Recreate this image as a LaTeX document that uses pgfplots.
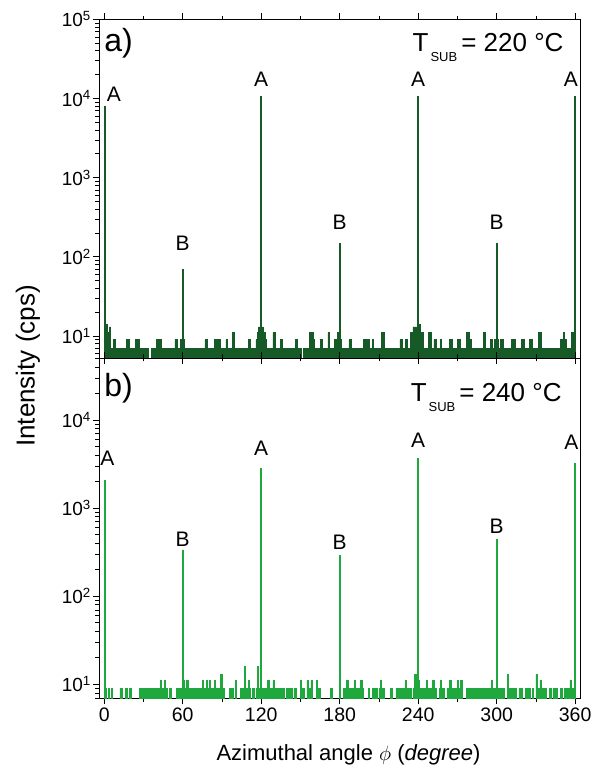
\documentclass[border=0pt]{standalone}
\usepackage{pgfplots}
\pgfplotsset{compat=1.18}
\usepackage{fontspec}
\setmainfont{Liberation Sans}
\definecolor{topgreen}{RGB}{22,90,40}
\definecolor{botgreen}{RGB}{30,168,62}
\newcommand{\Tsub}[1]{T\hspace{2pt}\raisebox{-10pt}{\fontsize{13}{13}\selectfont SUB}\hspace{4pt}= #1 °C}
\pgfplotsset{
  panel/.style={
    scale only axis, width=481pt,
    xmin=-4, xmax=363.7,
    xtick={0,60,...,360}, minor xtick={30,90,...,330},
    xtick pos=both, ytick pos=left, tick align=outside,
    major tick length=6pt, minor tick length=3.5pt,
    every tick/.style={black, line width=0.6pt},
    axis line style={line width=0.8pt},
    yticklabel style={font=\fontsize{19}{19}\selectfont, inner xsep=2pt},
    xticklabel style={font=\fontsize{19.5}{19.5}\selectfont},
    xticklabel={\pgfmathprintnumber[assume math mode=true]{\tick}},
    minor ytick={6,7,8,9,20,30,40,50,60,70,80,90,200,300,400,500,600,700,800,900,2000,3000,4000,5000,6000,7000,8000,9000,20000,30000,40000,50000,60000,70000,80000,90000},
  }
}
\begin{document}
\begin{tikzpicture}[x=1pt,y=1pt]
\path[use as bounding box] (-99pt,-68.7pt) rectangle (504pt,698.3pt);
% ---------------- top panel ----------------
\begin{axis}[ymode=log, panel, at={(0pt,340.3pt)}, anchor=south west, height=338.7pt,
  ymin=5.27, ymax=100000,
  ytick={10,100,1000,10000,100000},
  yticklabels={10\textsuperscript{1},10\textsuperscript{2},10\textsuperscript{3},10\textsuperscript{4},10\textsuperscript{5}},
  xticklabels={}]
\addplot[const plot, draw=topgreen, fill=topgreen, line width=0.7pt] coordinates {
(0,8000) (0.8,14) (2.5,11) (4,13) (5,7) (7,9) (8.5,7) (10.3,0.5) (10.8,7) (17,9) (19,7) (20,0.5) (20.5,7)
(24,9) (27,7) (34,0.5) (36,7) (40,9) (44,7) (48,0.5) (48.5,7) (54,9) (56,7) (58,9) (59.6,70) (60.4,9) (61,7)
(71,0.5) (71.5,7) (77,9) (79,7) (84,9) (89,7)
(93,9) (94,7) (98,11) (99.5,7) (110,9) (112,7) (116,9) (117,11) (118,13) (119.6,10700) (120.4,13) (121.5,11)
(123,9) (124,7) (129,11) (131,7) (135,9) (136,7) (138,0.5) (138.5,7) (146,9) (148,7) (151,0.5) (152,7)
(157,11) (160,9) (161,7) (165,9) (167,7) (171,11) (172,7) (176,9) (178,11) (179.6,149) (180.4,9) (181,7)
(187,9) (189,7) (198,9) (203,0.5) (203.5,7) (205,9) (206,7) (212,11) (214,7) (226,9) (228,7) (230,9) (232,7)
(234,11) (236,13) (239.6,10700) (240.4,14) (242,11) (244,7) (248,11) (250,7) (252,9) (254,0.5) (254.5,7)
(257,9) (258,7) (264,9) (266,7) (269,0.5) (270,9) (272,7)
(277,11) (279,9) (281,7) (287,0.5) (287.5,7) (290,11) (291.5,7) (295,9) (297,7) (298,9) (299.6,149) (300.4,9)
(301,7) (303,9) (305,7) (311,9) (314,7) (319,9) (321,7) (322,0.5) (322.5,7) (325,9) (327,7) (332,11) (334,7)
(344,0.5) (345,7) (349,9) (351,11) (352,9) (353,7) (357,11) (359.6,10700) (360,10700)
} \closedcycle;
\node[anchor=base west, font=\fontsize{32}{32}\selectfont] at (rel axis cs:0.004,0.904) {a)};
\node[anchor=base east, font=\fontsize{26}{26}\selectfont] at (rel axis cs:0.973,0.904) {\Tsub{220}};
\begin{scope}[every node/.style={font=\fontsize{21}{21}\selectfont}]
\node at (axis cs:7.4,11400) {A};
\node at (axis cs:120,17300) {A};
\node at (axis cs:240,17500) {A};
\node at (axis cs:356.7,17500) {A};
\node at (axis cs:60,150) {B};
\node at (axis cs:180,270) {B};
\node at (axis cs:300,270) {B};
\end{scope}
\end{axis}
% ---------------- bottom panel ----------------
\begin{axis}[ymode=log, panel, at={(0pt,0pt)}, anchor=south west, height=340.3pt,
  ymin=6.93, ymax=50700,
  ytick={10,100,1000,10000},
  yticklabels={10\textsuperscript{1},10\textsuperscript{2},10\textsuperscript{3},10\textsuperscript{4}}]
\addplot[const plot, draw=botgreen, fill=botgreen, line width=0.7pt] coordinates {
(0,2060) (0.8,9) (1.5,0.5) (3,9) (4,0.5) (5.5,9) (6.5,0.5) (12,9) (13.5,0.5) (16.5,9) (17.5,0.5) (19.5,9)
(21,0.5) (27,9) (35,0.5) (35.5,9) (43,11) (44,9) (46,11) (47,9) (48,0.5) (50,9) (51,0.5) (55,9)
(59.6,336) (60.4,11) (61.5,9) (62.5,11) (64.5,9) (67,0.5) (67.5,9) (72,0.5) (73,9) (75,11) (76,9) (78,11)
(79,9) (80.5,11) (81.5,9) (84,11) (85,9) (89,13) (90,9) (92,0.5)
(96,9) (99,0.5) (100,11) (101,0.5) (104,9) (106,0.5) (107,16) (108,9) (110,11) (111,9) (112,0.5) (113,9)
(115,0.5) (116,9) (117,16) (118,9) (119.6,2850) (120.4,9) (121,0.5) (122,9) (125,11) (126,9) (129,11) (130,9)
(133,0.5) (134,9) (138,0.5) (139,9) (144,0.5) (145,9) (147,0.5) (150,11) (151,9) (153,0.5) (155,11) (156,9)
(158,11) (159,0.5) (162,11) (163,9) (165,0.5) (173,9) (174,0.5) (179.6,289) (180.4,0.5)
(183,9) (185,11) (186.5,9) (188,0.5) (189,9) (191,11) (192,9) (196,11) (197,9) (198,0.5) (202,9) (203,0.5)
(205,9) (207,0.5) (208,9) (209,0.5) (210,9) (211,11) (212,9) (214,0.5) (219,9) (220,0.5) (223,9) (226,0.5)
(227,9) (230,11) (231,9) (235,0.5) (236,9) (237,13) (239.6,3700) (240.4,11) (241,9) (243,0.5) (244,9)
(246,11) (247,9) (249,0.5) (250,9) (251,11) (252,9) (254,0.5) (256,9) (257,11) (258,9) (260,0.5) (262,9)
(264,11) (265,9) (267,0.5) (268,9) (270,11) (271,9) (272,11) (274,0.5)
(277,9) (279,0.5) (280,9) (282,0.5) (283,9) (288,0.5) (289,9) (293,0.5) (294,9) (296,11) (297,9)
(299.6,445) (300.4,9) (301,0.5) (302,9) (306,0.5) (308,13) (309,0.5) (310,9) (315,0.5) (317,9) (320,0.5)
(322,9) (326,0.5) (327,9) (328,0.5) (330,13) (331,9) (333,11) (334,9) (338,0.5) (340,9) (342,0.5) (343,9)
(346,0.5) (349,9) (350,0.5) (352,9) (354,0.5) (355,9) (356,11) (357,0.5) (358,9) (359.6,3240) (360,3240)
} \closedcycle;
\node[anchor=base west, font=\fontsize{32}{32}\selectfont] at (rel axis cs:0.004,0.886) {b)};
\node[anchor=base east, font=\fontsize{26}{26}\selectfont] at (rel axis cs:0.969,0.871) {\Tsub{240}};
\begin{scope}[every node/.style={font=\fontsize{21}{21}\selectfont}]
\node at (axis cs:2.4,3700) {A};
\node at (axis cs:120,4800) {A};
\node at (axis cs:240,5850) {A};
\node at (axis cs:357.1,5540) {A};
\node at (axis cs:60,448) {B};
\node at (axis cs:180,406) {B};
\node at (axis cs:300,618) {B};
\end{scope}
\end{axis}
% axis titles
\node[font=\fontsize{22}{22}\selectfont] at (249.5pt,-56.7pt) {Azimuthal angle $\phi$ (\textit{degree})};
\node[font=\fontsize{26}{26}\selectfont, rotate=90] at (-71pt,332.3pt) {Intensity (cps)};
\end{tikzpicture}
\end{document}
